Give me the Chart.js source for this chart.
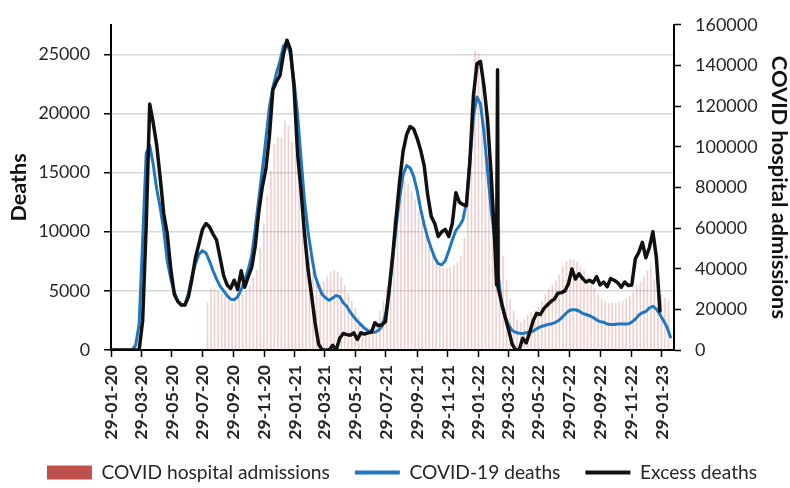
<!DOCTYPE html>
<html><head><meta charset="utf-8">
<script src="https://cdn.jsdelivr.net/npm/chart.js@4.4.1/dist/chart.umd.min.js"></script>
<style>html,body{margin:0;padding:0;background:#fff;overflow:hidden}#wrap{width:790px;height:488px}</style>
</head><body><div id="wrap"><canvas id="c" width="790" height="488"></canvas></div>
<script>
// ---------------- DATA ----------------
const lineStartDate = '2020-01-29';   // first weekly point of both death series
const barStartDate = '2020-08-08';    // first weekly hospital admissions bar
const axisEndDate = '2023-02-22';
const xTickLabels = ['29-01-20','29-03-20','29-05-20','29-07-20','29-09-20','29-11-20',
  '29-01-21','29-03-21','29-05-21','29-07-21','29-09-21','29-11-21',
  '29-01-22','29-03-22','29-05-22','29-07-22','29-09-22','29-11-22','29-01-23'];
const leftTickValues = [0, 5000, 10000, 15000, 20000, 25000];
const rightTickValues = [0, 20000, 40000, 60000, 80000, 100000, 120000, 140000, 160000];
const seriesNames = ['COVID hospital admissions','COVID-19 deaths','Excess deaths'];

// weekly COVID-19 deaths (left axis)
const covidDeaths = [
  0,0,0,0,0,0,0,400,2200,9300,
  16600,17300,15700,13600,12000,10100,7500,6000,4900,4100,
  3800,3800,4800,6200,7300,8100,8400,8200,7500,6700,
  6000,5400,5000,4600,4300,4250,4500,5100,5900,6800,
  8000,10300,12800,15200,17800,20500,22200,23400,24400,25700,
  26000,25000,22800,20000,16200,12600,10000,8000,6300,5400,
  4700,4400,4200,4400,4600,4500,4000,3700,3200,2800,
  2450,2150,1850,1650,1500,1500,1650,2000,3000,4700,
  7600,10300,12800,14800,15600,15400,14700,13500,11900,10600,
  9500,8600,7800,7300,7200,7550,8400,9300,10100,10500,
  11000,12500,16000,19700,21400,20800,18400,15200,12000,9400,
  6500,3800,2800,2100,1650,1500,1420,1400,1450,1500,
  1600,1800,1950,2050,2150,2200,2300,2450,2700,3000,
  3300,3400,3400,3300,3100,3000,2900,2750,2550,2400,
  2350,2200,2150,2150,2200,2200,2200,2200,2350,2600,
  2950,3150,3250,3550,3700,3450,3000,2500,1950,1100];

// weekly excess deaths (left axis)
const excessDeaths = [
  0,0,0,0,0,0,0,0,0,2500,
  10500,20800,19200,17300,14500,11500,9800,6800,4700,4100,
  3800,3800,4500,6000,7800,9000,10200,10700,10400,9800,
  9300,7800,6300,5500,5200,5900,5100,6700,5300,6200,
  7000,8800,11700,13800,15300,18000,22000,22700,23200,25000,
  26200,25400,22300,16700,13500,9800,6800,4600,2300,500,
  0,0,0,400,0,1000,1400,1300,1250,1450,
  900,1450,1350,1450,1500,2300,2050,2150,2400,5000,
  7800,11100,14200,16800,18200,18900,18700,17900,16900,15600,
  13100,11300,10700,9600,10000,10200,9600,10700,13300,12500,
  12300,12200,16000,21500,24200,24400,22300,19500,15000,9500,
  5300,4000,2800,1700,500,0,0,1000,600,1500,
  2500,3100,3000,3500,3800,4100,4300,4800,4850,5000,
  5600,6850,6000,6450,6050,5750,5900,5700,6200,5500,
  5750,5350,6050,5900,5700,5300,5750,5450,5500,7700,
  8250,9100,7800,8650,10000,7800,3300];

// two extra (off-week) entries in March 2022 present in both death series
const anomalyDates = ['2022-03-06','2022-03-08'];
const covidDeathsAnomaly = [7600, 18700];
const excessDeathsAnomaly = [5500, 23700];

// weekly COVID hospital admissions (right axis)
const hospitalAdmissions = [
  23100,30000,30000,28700,27900,26300,24800,23100,23100,25500,
  27500,29000,32000,36000,39500,50000,62000,76000,88000,101000,
  104600,104600,112600,110200,102200,96000,87800,74000,57000,46000,
  38500,34500,32700,33500,36000,38000,39100,38500,35500,32000,
  28000,24000,20500,16000,13000,11200,10500,11500,14500,19000,
  24000,31000,45000,65000,77000,81000,83000,81500,78000,74000,
  68000,62500,56000,51000,47500,43500,41000,40000,40000,40500,
  41500,43000,46000,55000,80000,120000,147000,146000,135000,118000,
  102000,88000,74000,60000,46000,34000,25000,19000,15000,13500,
  15000,17000,18500,19200,21000,24000,27300,30000,32000,34000,
  37000,41000,43500,44500,44500,43300,40500,39000,36000,33000,
  30500,27500,25000,24000,23100,23100,23100,23500,24000,25000,
  26500,28500,32000,33500,36000,39000,41500,35000,30000,27300,
  25500,24500];

// ---------------- HELPERS ----------------
const DAY = 86400000;
const t0 = Date.parse(lineStartDate + 'T00:00:00Z');
const dayOf = s => Math.round((Date.parse(s + 'T00:00:00Z') - t0) / DAY);
const dayOfLabel = l => { const p = l.split('-'); return dayOf('20' + p[2] + '-' + p[1] + '-' + p[0]); };
const weekly = (vals, start) => { const d0 = dayOf(start); return vals.map((v, i) => ({x: d0 + 7 * i, y: v})); };
const withExtra = (pts, dates, vals) => pts.concat(dates.map((d, i) => ({x: dayOf(d), y: vals[i]}))).sort((a, b) => a.x - b.x);
const tickDays = xTickLabels.map(dayOfLabel);
const labelByDay = {}; xTickLabels.forEach((l, i) => labelByDay[tickDays[i]] = l);

const FAMILY = 'Lato, "Liberation Sans", sans-serif';
const mctx = document.createElement('canvas').getContext('2d');
function fit(text, target, weight) {
  mctx.font = weight + ' 100px ' + FAMILY;
  return Math.round(100 * target / mctx.measureText(text).width * 10) / 10;
}
const yTickSize = fit('25000', 51.7, 'normal');
const y1TickSize = fit('160000', 62.5, 'normal');
const xTickSize = fit('29-01-20', 75, 'bold');
const leftTitleSize = fit('Deaths', 68, 'bold');
const rightTitleSize = fit('COVID hospital admissions', 263, 'bold');
const legendSize = fit('COVID hospital admissions', 228, 'normal');

const TXT = '#262626';
const AXIS = '#000000';
const PAD_LEFT = 14;
const PAD_BOTTOM = -4;

new Chart(document.getElementById('c'), {
  type: 'bar',
  data: {
    datasets: [
      {
        type: 'bar', label: seriesNames[0], yAxisID: 'y1', order: 3,
        data: weekly(hospitalAdmissions, barStartDate),
        backgroundColor: 'rgba(205,95,95,0.3)', borderWidth: 0,
        barThickness: 1
      },
      {
        type: 'line', label: seriesNames[1], yAxisID: 'y', order: 2,
        data: withExtra(weekly(covidDeaths, lineStartDate), anomalyDates, covidDeathsAnomaly),
        borderColor: '#1f77c2', backgroundColor: '#1f77c2', borderWidth: 3,
        pointRadius: 0, tension: 0, borderJoinStyle: 'round', borderCapStyle: 'round'
      },
      {
        type: 'line', label: seriesNames[2], yAxisID: 'y', order: 1,
        data: withExtra(weekly(excessDeaths, lineStartDate), anomalyDates, excessDeathsAnomaly),
        borderColor: '#111111', backgroundColor: '#111111', borderWidth: 3.5,
        pointRadius: 0, tension: 0, borderJoinStyle: 'round', borderCapStyle: 'round'
      }
    ]
  },
  options: {
    responsive: false, animation: false, devicePixelRatio: 1,
    layout: {padding: {top: 16, left: PAD_LEFT, right: 0, bottom: PAD_BOTTOM}},
    plugins: {
      tooltip: {enabled: false},
      legend: {
        position: 'bottom',
        labels: {
          usePointStyle: true, pointStyleWidth: 45, boxHeight: 14, padding: 25,
          color: TXT, font: {family: FAMILY, size: legendSize},
          sort: (a, b) => a.datasetIndex - b.datasetIndex,
          generateLabels: (chart) => {
            const items = Chart.defaults.plugins.legend.labels.generateLabels(chart);
            items.forEach(it => {
              const ds = chart.data.datasets[it.datasetIndex];
              if (ds.type === 'bar') { it.pointStyle = 'rect'; it.fillStyle = '#C0504D'; it.strokeStyle = '#C0504D'; it.lineWidth = 0; }
              else { it.pointStyle = 'line'; it.strokeStyle = ds.borderColor; it.lineWidth = 4; }
            });
            return items;
          }
        }
      }
    },
    scales: {
      x: {
        type: 'linear', position: 'bottom', offset: false,
        min: 0, max: dayOf(axisEndDate),
        afterBuildTicks: s => { s.ticks = tickDays.map(v => ({value: v})); },
        afterFit: s => { s.height = s.chart.height - PAD_BOTTOM - 350 - (s.chart.legend ? s.chart.legend.height : 0); },
        afterUpdate: s => { s._computeLabelArea = () => undefined; },
        ticks: {
          autoSkip: false, minRotation: 90, maxRotation: 90, padding: 8,
          color: TXT, font: {family: FAMILY, size: xTickSize, weight: 'bold'},
          callback: v => labelByDay[v] !== undefined ? labelByDay[v] : ''
        },
        grid: {drawOnChartArea: false, drawTicks: true, tickLength: 7, tickColor: AXIS, tickWidth: 1.5, offset: false},
        border: {display: true, color: AXIS, width: 2}
      },
      y: {
        type: 'linear', position: 'left', min: 0, max: 27500,
        afterFit: s => { s.width = 111 - PAD_LEFT; },
        afterBuildTicks: s => { s.ticks = leftTickValues.map(v => ({value: v})); },
        ticks: {padding: 14, color: TXT, font: {family: FAMILY, size: yTickSize},
          callback: v => String(v)},
        grid: {
          color: c => (c.tick && c.tick.value === 0) ? 'rgba(0,0,0,0)' : '#d9d9d9',
          lineWidth: 1.5, drawTicks: true, tickLength: 7, tickColor: AXIS, tickWidth: 1.5
        },
        border: {display: true, color: AXIS, width: 2},
        title: {display: true, text: 'Deaths', color: '#111',
          font: {family: FAMILY, size: leftTitleSize, weight: 'bold', lineHeight: 1},
          padding: {top: 8 - PAD_LEFT, bottom: 0}}
      },
      y1: {
        type: 'linear', position: 'right', min: 0, max: 160000,
        afterFit: s => { s.width = 116; },
        afterBuildTicks: s => { s.ticks = rightTickValues.map(v => ({value: v})); },
        ticks: {padding: 14, color: TXT, font: {family: FAMILY, size: y1TickSize},
          callback: v => String(v)},
        grid: {drawOnChartArea: false, drawTicks: true, tickLength: 7, tickColor: AXIS, tickWidth: 1.5},
        border: {display: true, color: AXIS, width: 2},
        title: {display: true, text: 'COVID hospital admissions', color: '#111',
          font: {family: FAMILY, size: rightTitleSize, weight: 'bold', lineHeight: 1},
          padding: {top: 0, bottom: 0}}
      }
    }
  }
});
</script></body></html>
